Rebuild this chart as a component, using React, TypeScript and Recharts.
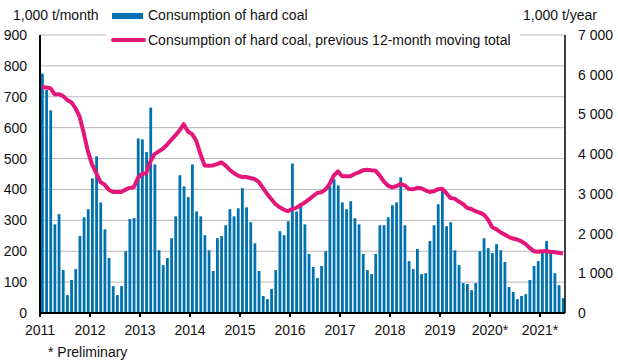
import React from "react";
import { ComposedChart, Bar, Line, XAxis, YAxis, CartesianGrid } from "recharts";

const yearLabels = ["2011", "2012", "2013", "2014", "2015", "2016", "2017", "2018", "2019", "2020*", "2021*"];
const leftTicks = [0, 100, 200, 300, 400, 500, 600, 700, 800, 900];
const rightTicks = [0, 1000, 2000, 3000, 4000, 5000, 6000, 7000];

// Monthly consumption of hard coal, 1,000 t/month (Jan 2011 - Jun 2021)
const monthly = [
  775, 722, 656, 287, 320, 139, 58, 107, 142, 249, 310, 336,
  436, 507, 358, 271, 178, 87, 58, 87, 200, 304, 307, 565,
  562, 521, 665, 481, 203, 155, 178, 242, 313, 446, 410, 375,
  481, 329, 313, 252, 203, 136, 242, 249, 284, 336, 313, 339,
  404, 342, 294, 226, 136, 55, 45, 78, 139, 265, 252, 297,
  484, 329, 355, 287, 191, 149, 113, 152, 200, 410, 433, 413,
  358, 336, 362, 307, 287, 191, 139, 126, 191, 284, 284, 310,
  349, 358, 439, 284, 168, 142, 207, 126, 129, 233, 284, 352,
  400, 281, 294, 203, 155, 97, 94, 74, 97, 200, 242, 210,
  194, 223, 203, 165, 84, 68, 45, 55, 61, 107, 152, 168,
  194, 233, 197, 129, 90, 48,
];

// 12-month moving total, 1,000 t/year
const movingTotal = [
  5685, 5676, 5660, 5509, 5509, 5467, 5366, 5308, 5157, 4948, 4530, 4069,
  3734, 3525, 3299, 3232, 3106, 3047, 3047, 3047, 3106, 3148, 3165, 3399,
  3500, 3525, 3818, 4002, 4069, 4136, 4236, 4362, 4470, 4600, 4755, 4571,
  4504, 4337, 4002, 3717, 3709, 3717, 3751, 3793, 3717, 3608, 3525, 3458,
  3424, 3424, 3399, 3374, 3299, 3148, 2997, 2872, 2746, 2662, 2604, 2562,
  2620, 2646, 2713, 2779, 2855, 2939, 3022, 3039, 3106, 3248, 3458, 3567,
  3441, 3441, 3441, 3500, 3541, 3592, 3608, 3592, 3583, 3466, 3315, 3206,
  3165, 3190, 3248, 3215, 3123, 3114, 3148, 3140, 3089, 3047, 3064, 3114,
  3131, 3022, 2897, 2880, 2805, 2746, 2646, 2620, 2562, 2528, 2478, 2353,
  2168, 2110, 2034, 1976, 1917, 1875, 1850, 1808, 1741, 1641, 1557, 1540,
  1557, 1557, 1540, 1532, 1515, 1499,
];

const data = monthly.map((v, i) => ({ x: i + 0.5, coal: v, total: movingTotal[i] }));
const xTicks = yearLabels.map((_, i) => i * 12);

const FONT = "'Liberation Sans', Arial, sans-serif";
const BLUE = "#0072b2";
const PINK = "#e3167a";
const GRID = "#bab5ba";

const fmtSpace = (v: number) => {
  const s = String(v);
  return s.length > 3 ? s.slice(0, s.length - 3) + " " + s.slice(-3) : s;
};

export default function App() {
  const txt: React.CSSProperties = {
    position: "absolute",
    fontFamily: FONT,
    fontSize: 14,
    lineHeight: "16px",
    color: "#111",
    whiteSpace: "nowrap",
  };
  return (
    <div style={{ position: "absolute", left: 0, top: 0, width: 618, height: 363, background: "#fff" }}>
      <ComposedChart
        width={618}
        height={363}
        data={data}
        margin={{ top: 35, right: 0, bottom: 20, left: 0 }}
        style={{ fontFamily: FONT }}
      >
        <CartesianGrid yAxisId="left" vertical={false} stroke={GRID} strokeWidth={1} />
        <XAxis
          type="number"
          dataKey="x"
          domain={[0, 126]}
          ticks={xTicks}
          tickFormatter={(v: number) => yearLabels[Math.round(v / 12)]}
          interval={0}
          height={30}
          axisLine={{ stroke: "#000", strokeWidth: 2 }}
          tickLine={{ stroke: "#000", strokeWidth: 2 }}
          tickSize={4}
          tickMargin={8}
          tick={{ fill: "#111", fontSize: 14, fontFamily: FONT }}
        />
        <YAxis
          yAxisId="left"
          orientation="left"
          domain={[0, 900]}
          ticks={leftTicks}
          interval={0}
          width={40}
          axisLine={{ stroke: "#000", strokeWidth: 2 }}
          tickLine={false}
          tickSize={0}
          tickMargin={13}
          tick={{ fill: "#111", fontSize: 14, fontFamily: FONT }}
        />
        <YAxis
          yAxisId="right"
          orientation="right"
          domain={[0, 7000]}
          ticks={rightTicks}
          interval={0}
          width={53}
          axisLine={{ stroke: "#000", strokeWidth: 1.5 }}
          tickLine={false}
          tickSize={0}
          tickMargin={13}
          tickFormatter={fmtSpace}
          tick={{ fill: "#111", fontSize: 14, fontFamily: FONT }}
        />
        <Bar yAxisId="left" dataKey="coal" fill={BLUE} barSize={2.8} isAnimationActive={false} />
        <Line
          yAxisId="right"
          dataKey="total"
          type="linear"
          stroke={PINK}
          strokeWidth={4}
          dot={false}
          strokeLinejoin="round"
          isAnimationActive={false}
        />
      </ComposedChart>

      <div style={{ ...txt, left: 13, top: 7 }}>1,000 t/month</div>
      <div style={{ ...txt, left: 523, top: 7 }}>1,000 t/year</div>

      <div style={{ position: "absolute", left: 112, top: 13, width: 31, height: 6, background: BLUE }} />
      <div style={{ ...txt, left: 148, top: 7 }}>Consumption of hard coal</div>

      <div style={{ position: "absolute", left: 106, top: 31, width: 414, height: 17, background: "#fff" }} />
      <div style={{ position: "absolute", left: 111, top: 37.5, width: 35, height: 4, borderRadius: 2, background: PINK }} />
      <div style={{ ...txt, left: 148, top: 32 }}>Consumption of hard coal, previous 12-month moving total</div>

      <div style={{ ...txt, left: 48, top: 344 }}>* Preliminary</div>
    </div>
  );
}
